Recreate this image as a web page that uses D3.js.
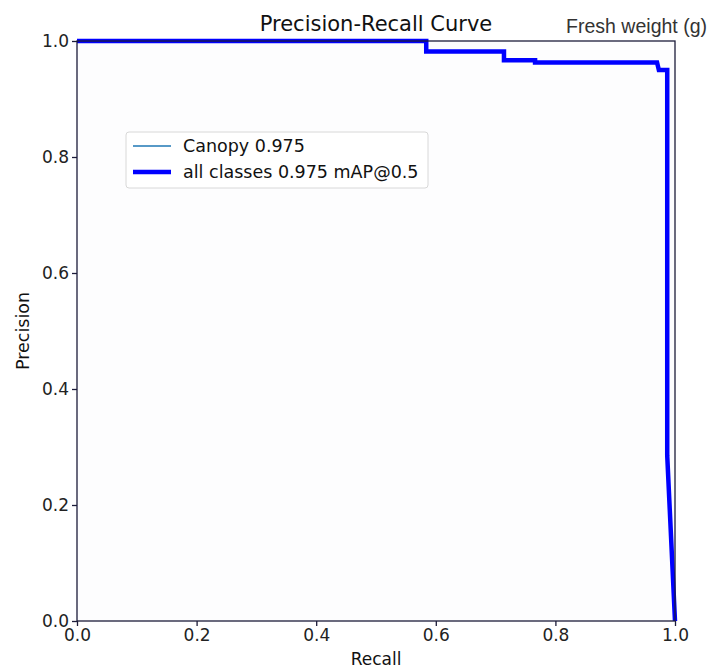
<!DOCTYPE html>
<html>
<head>
<meta charset="utf-8">
<script src="https://cdn.jsdelivr.net/npm/d3@7"></script>
<style>
  body { margin: 0; background: #fff; }
  svg { font-family: "DejaVu Sans", sans-serif; }
</style>
</head>
<body>
<svg width="726" height="669"></svg>
<script>
// Datos
const recall = [0, 0.584, 0.584, 0.714, 0.714, 0.766, 0.766, 0.970, 0.973, 0.987, 0.987, 1.0];
const precision = [1, 1, 0.982, 0.982, 0.967, 0.967, 0.963, 0.963, 0.950, 0.950, 0.285, 0];
const seriesNames = ["Canopy 0.975", "all classes 0.975 mAP@0.5"];
const tickValues = [0, 0.2, 0.4, 0.6, 0.8, 1.0];

const width = 726, height = 669;
const margin = { top: 41, right: 51, bottom: 48, left: 77 };
const innerWidth = width - margin.left - margin.right;
const innerHeight = height - margin.top - margin.bottom;

const svg = d3.select("svg");
const data = recall.map((r, i) => ({ r: r, p: precision[i] }));

const x = d3.scaleLinear().domain([0, 1]).range([0, innerWidth]);
const y = d3.scaleLinear().domain([0, 1]).range([innerHeight, 0]);

const g = svg.append("g").attr("transform", `translate(${margin.left},${margin.top})`);

// Fondo del área
g.append("rect")
    .attr("width", innerWidth)
    .attr("height", innerHeight)
    .attr("fill", "#fdfdfe");

const line = d3.line().x(d => x(d.r)).y(d => y(d.p));

g.append("path").datum(data)
    .attr("d", line)
    .attr("fill", "none")
    .attr("stroke", "#1f77b4")
    .attr("stroke-width", 1);

g.append("path").datum(data)
    .attr("d", line)
    .attr("fill", "none")
    .attr("stroke", "#0000ff")
    .attr("stroke-width", 4.5)
    .attr("stroke-linejoin", "miter");

// Marco
g.append("rect")
    .attr("width", innerWidth)
    .attr("height", innerHeight)
    .attr("fill", "none")
    .attr("stroke", "#1c1c3a")
    .attr("stroke-width", 1.3);

// Ejes
const xAxis = g.append("g")
    .attr("transform", `translate(0,${innerHeight})`)
    .call(d3.axisBottom(x).tickValues(tickValues).tickFormat(d3.format(".1f")).tickSize(5).tickPadding(3));
const yAxis = g.append("g")
    .call(d3.axisLeft(y).tickValues(tickValues).tickFormat(d3.format(".1f")).tickSize(5).tickPadding(3));

[xAxis, yAxis].forEach(a => {
    a.select(".domain").remove();
    a.selectAll("line").attr("stroke", "#1c1c3a").attr("stroke-width", 1.3);
    a.selectAll("text")
        .attr("fill", "#222")
        .style("font-size", "17px")
        .style("font-family", "DejaVu Sans, sans-serif");
});

// Títulos
svg.append("text")
    .attr("x", margin.left + innerWidth / 2)
    .attr("y", 31)
    .attr("text-anchor", "middle")
    .style("font-size", "21px")
    .attr("fill", "#111")
    .text("Precision-Recall Curve");

svg.append("text")
    .attr("x", 707)
    .attr("y", 33)
    .attr("text-anchor", "end")
    .style("font-size", "19.5px")
    .style("font-family", "Liberation Sans, Arial, sans-serif")
    .attr("fill", "#333")
    .text("Fresh weight (g)");

svg.append("text")
    .attr("x", margin.left + innerWidth / 2)
    .attr("y", 665)
    .attr("text-anchor", "middle")
    .style("font-size", "17px")
    .attr("fill", "#111")
    .text("Recall");

svg.append("text")
    .attr("transform", `translate(29,${margin.top + innerHeight / 2}) rotate(-90)`)
    .attr("text-anchor", "middle")
    .style("font-size", "17.5px")
    .attr("fill", "#111")
    .text("Precision");

// Leyenda
const legend = svg.append("g").attr("transform", "translate(126,132)");
legend.append("rect")
    .attr("width", 302)
    .attr("height", 56)
    .attr("rx", 3)
    .attr("fill", "#fff")
    .attr("fill-opacity", 0.85)
    .attr("stroke", "#d8d8d8");

const items = legend.selectAll(".item")
    .data(seriesNames)
    .enter()
    .append("g")
    .attr("class", "item")
    .attr("transform", (d, i) => `translate(0,${14 + i * 26})`);

items.append("line")
    .attr("x1", 7).attr("x2", 45)
    .attr("stroke", (d, i) => i === 0 ? "#1f77b4" : "#0000ff")
    .attr("stroke-width", (d, i) => i === 0 ? 1.5 : 4.5);

items.append("text")
    .attr("x", 57)
    .attr("y", 6)
    .style("font-size", "17.5px")
    .attr("fill", "#111")
    .text(d => d);
</script>
</body>
</html>
